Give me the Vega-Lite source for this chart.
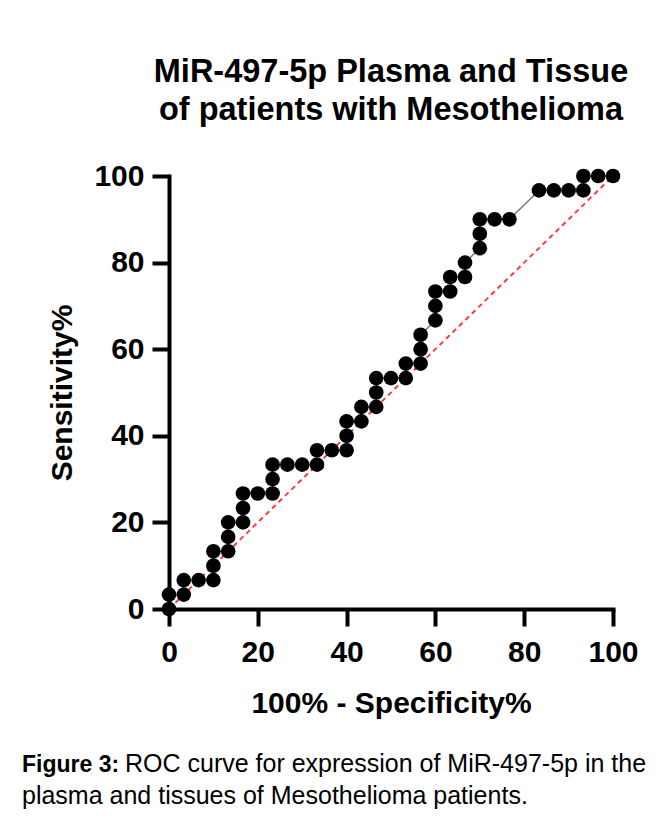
{
  "$schema": "https://vega.github.io/schema/vega-lite/v6.json",
  "autosize": {"type": "none"},
  "width": 444,
  "height": 433,
  "padding": {"left": 169, "top": 176, "right": 52, "bottom": 211},
  "background": "white",
  "config": {
    "font": "Liberation Sans",
    "view": {"stroke": null},
    "axis": {"grid": false, "domainColor": "black", "tickColor": "black", "labelColor": "black", "titleColor": "black", "domainWidth": 4, "tickWidth": 4, "tickSize": 17, "labelFontSize": 30, "labelFontWeight": "bold", "titleFontSize": 30, "titleFontWeight": "bold", "labelFont": "Liberation Sans", "titleFont": "Liberation Sans", "domainCap": "square", "labelFlush": false, "labelOverlap": false}
  },
  "title": {
    "text": ["MiR-497-5p Plasma and Tissue", "of patients with Mesothelioma"],
    "fontSize": 32.5, "fontWeight": "bold", "color": "black", "lineHeight": 38,
    "anchor": "middle", "frame": "group", "offset": 35, "font": "Liberation Sans"
  },
  "datasets": {
    "roc": [
      {"i": 1, "fpr": 0, "tpr": 0}, {"i": 2, "fpr": 0, "tpr": 3.33}, {"i": 3, "fpr": 3.33, "tpr": 3.33}, {"i": 4, "fpr": 3.33, "tpr": 6.67},
      {"i": 5, "fpr": 6.67, "tpr": 6.67}, {"i": 6, "fpr": 10, "tpr": 6.67}, {"i": 7, "fpr": 10, "tpr": 10}, {"i": 8, "fpr": 10, "tpr": 13.33},
      {"i": 9, "fpr": 13.33, "tpr": 13.33}, {"i": 10, "fpr": 13.33, "tpr": 16.67}, {"i": 11, "fpr": 13.33, "tpr": 20}, {"i": 12, "fpr": 16.67, "tpr": 20},
      {"i": 13, "fpr": 16.67, "tpr": 23.33}, {"i": 14, "fpr": 16.67, "tpr": 26.67}, {"i": 15, "fpr": 20, "tpr": 26.67}, {"i": 16, "fpr": 23.33, "tpr": 26.67},
      {"i": 17, "fpr": 23.33, "tpr": 30}, {"i": 18, "fpr": 23.33, "tpr": 33.33}, {"i": 19, "fpr": 26.67, "tpr": 33.33}, {"i": 20, "fpr": 30, "tpr": 33.33},
      {"i": 21, "fpr": 33.33, "tpr": 33.33}, {"i": 22, "fpr": 33.33, "tpr": 36.67}, {"i": 23, "fpr": 36.67, "tpr": 36.67}, {"i": 24, "fpr": 40, "tpr": 36.67},
      {"i": 25, "fpr": 40, "tpr": 40}, {"i": 26, "fpr": 40, "tpr": 43.33}, {"i": 27, "fpr": 43.33, "tpr": 43.33}, {"i": 28, "fpr": 43.33, "tpr": 46.67},
      {"i": 29, "fpr": 46.67, "tpr": 46.67}, {"i": 30, "fpr": 46.67, "tpr": 50}, {"i": 31, "fpr": 46.67, "tpr": 53.33}, {"i": 32, "fpr": 50, "tpr": 53.33},
      {"i": 33, "fpr": 53.33, "tpr": 53.33}, {"i": 34, "fpr": 53.33, "tpr": 56.67}, {"i": 35, "fpr": 56.67, "tpr": 56.67}, {"i": 36, "fpr": 56.67, "tpr": 60},
      {"i": 37, "fpr": 56.67, "tpr": 63.33}, {"i": 38, "fpr": 60, "tpr": 66.67}, {"i": 39, "fpr": 60, "tpr": 70}, {"i": 40, "fpr": 60, "tpr": 73.33},
      {"i": 41, "fpr": 63.33, "tpr": 73.33}, {"i": 42, "fpr": 63.33, "tpr": 76.67}, {"i": 43, "fpr": 66.67, "tpr": 76.67}, {"i": 44, "fpr": 66.67, "tpr": 80},
      {"i": 45, "fpr": 70, "tpr": 83.33}, {"i": 46, "fpr": 70, "tpr": 86.67}, {"i": 47, "fpr": 70, "tpr": 90}, {"i": 48, "fpr": 73.33, "tpr": 90},
      {"i": 49, "fpr": 76.67, "tpr": 90}, {"i": 50, "fpr": 83.33, "tpr": 96.67}, {"i": 51, "fpr": 86.67, "tpr": 96.67}, {"i": 52, "fpr": 90, "tpr": 96.67},
      {"i": 53, "fpr": 93.33, "tpr": 96.67}, {"i": 54, "fpr": 93.33, "tpr": 100}, {"i": 55, "fpr": 96.67, "tpr": 100}, {"i": 56, "fpr": 100, "tpr": 100}
    ],
    "chance": [{"i": 1, "fpr": 0, "tpr": 0}, {"i": 2, "fpr": 100, "tpr": 100}],
    "caption": [
      {"part": "bold", "text": "Figure 3:"},
      {"part": "line1", "text": "ROC curve for expression of MiR-497-5p in the"},
      {"part": "line2", "text": "plasma and tissues of Mesothelioma patients."}
    ]
  },
  "layer": [
    {
      "data": {"name": "chance"},
      "mark": {"type": "line", "color": "#ff3b3b", "strokeWidth": 2, "strokeDash": [5, 4], "clip": false},
      "encoding": {
        "x": {"field": "fpr", "type": "quantitative", "scale": {"domain": [0, 100], "nice": false}, "axis": {"values": [0, 20, 40, 60, 80, 100], "title": "100% - Specificity%", "labelPadding": 11, "titlePadding": 21}},
        "y": {"field": "tpr", "type": "quantitative", "scale": {"domain": [0, 100], "nice": false}, "axis": {"values": [0, 20, 40, 60, 80, 100], "title": "Sensitivity%", "labelPadding": 8, "titlePadding": 16}},
        "order": {"field": "i"}
      }
    },
    {
      "data": {"name": "roc"},
      "mark": {"type": "line", "color": "#7a7a7a", "strokeWidth": 1.5, "clip": false},
      "encoding": {
        "x": {"field": "fpr", "type": "quantitative"},
        "y": {"field": "tpr", "type": "quantitative"},
        "order": {"field": "i"}
      }
    },
    {
      "data": {"name": "roc"},
      "mark": {"type": "circle", "size": 215, "color": "black", "opacity": 1, "clip": false},
      "encoding": {
        "x": {"field": "fpr", "type": "quantitative"},
        "y": {"field": "tpr", "type": "quantitative"}
      }
    },
    {
      "data": {"name": "caption"},
      "transform": [{"filter": "datum.part == 'bold'"}],
      "mark": {"type": "text", "x": -147, "y": 596, "align": "left", "baseline": "alphabetic", "fontSize": 23, "fontWeight": "bold", "font": "Liberation Sans", "color": "black"},
      "encoding": {"text": {"field": "text"}}
    },
    {
      "data": {"name": "caption"},
      "transform": [{"filter": "datum.part == 'line1'"}],
      "mark": {"type": "text", "x": -44, "y": 596, "align": "left", "baseline": "alphabetic", "fontSize": 25, "font": "Liberation Sans", "color": "black"},
      "encoding": {"text": {"field": "text"}}
    },
    {
      "data": {"name": "caption"},
      "transform": [{"filter": "datum.part == 'line2'"}],
      "mark": {"type": "text", "x": -147, "y": 628, "align": "left", "baseline": "alphabetic", "fontSize": 25, "font": "Liberation Sans", "color": "black"},
      "encoding": {"text": {"field": "text"}}
    }
  ]
}
